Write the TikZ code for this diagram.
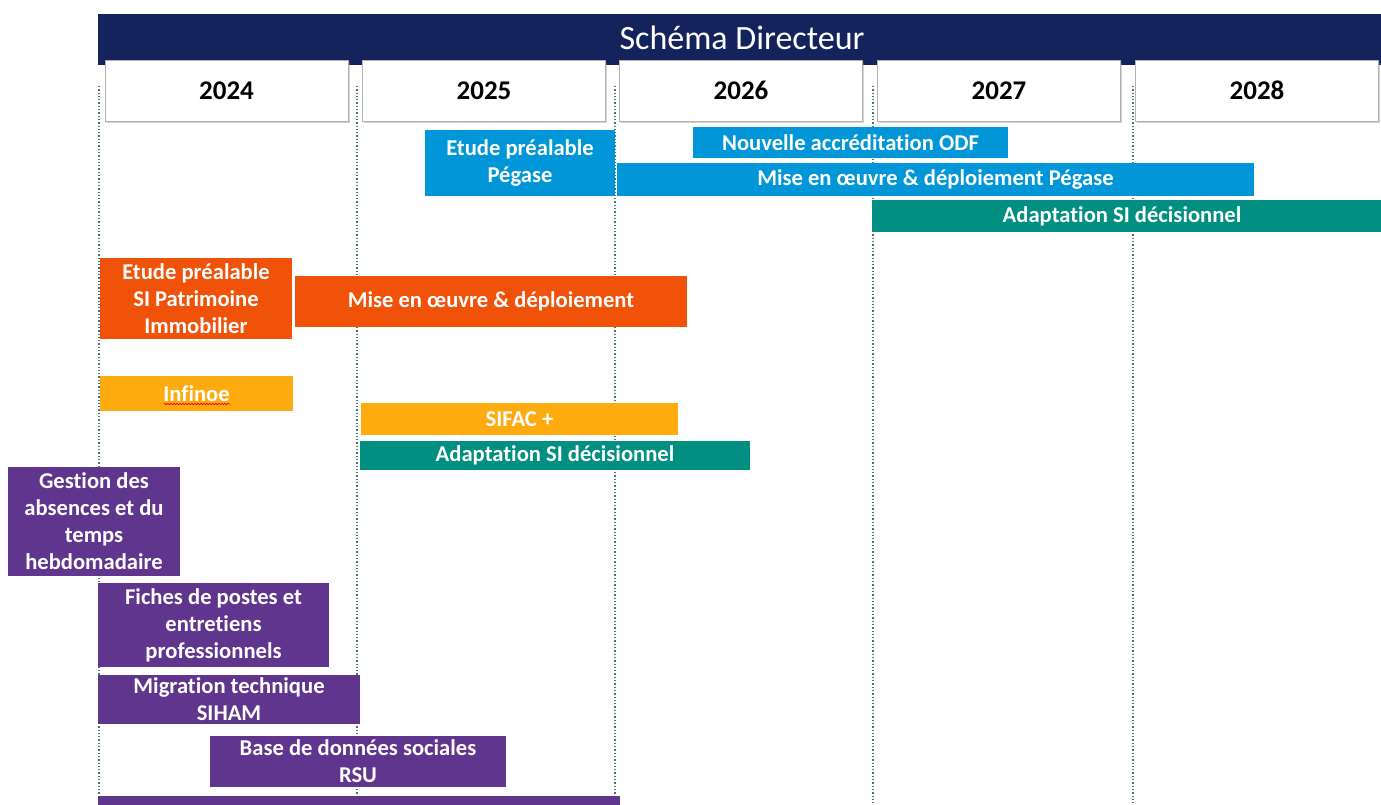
\documentclass[tikz,border=0pt]{standalone}
\usepackage{fontspec}
\setmainfont[Ligatures=NoCommon]{Carlito}
\usetikzlibrary{decorations.pathmorphing,shadows}
\definecolor{navy}{RGB}{21,35,92}
\definecolor{skyblue}{RGB}{0,150,215}
\definecolor{tealc}{RGB}{0,143,128}
\definecolor{orangec}{RGB}{239,82,8}
\definecolor{amber}{RGB}{254,171,16}
\definecolor{purplec}{RGB}{96,53,142}
\definecolor{gridc}{RGB}{70,115,125}
\tikzset{
  barbox/.style={fill=#1, draw=none, inner sep=0pt, text=white,
    font=\bfseries\fontsize{22.6}{27}\selectfont, align=center},
  yearbox/.style={fill=white, draw=gray!60, line width=0.8pt, inner sep=0pt,
    minimum width=243pt, minimum height=61pt,
    font=\bfseries\fontsize{27}{30}\selectfont,
    drop shadow={shadow xshift=1.5pt, shadow yshift=-1.5pt, opacity=0.35}},
  gridline/.style={gridc, line width=1.3pt, dash pattern=on 1.3pt off 2pt},
}
\newcommand\gb[7]{\node[barbox=#6, minimum width={(#4-#2)*1pt}, minimum height={(#5-#3)*1pt}] (#1) at ({(#2+#4)/2},{(#3+#5)/2}) {#7};}
\begin{document}
\begin{tikzpicture}[x=1pt,y=-1pt]
\useasboundingbox (0,0) rectangle (1381,805);
\clip (0,0) rectangle (1381,805);
% grid lines
\foreach \gx/\nm in {99/ga,357/gb,615/gc,873/gd,1133/ge}{
  \coordinate (\nm t) at (\gx,86);
  \coordinate (\nm b) at (\gx,805);
  \draw[gridline] (\nm t) -- (\nm b);
}
% title bar
\node[fill=navy, inner sep=0pt, minimum width=1290pt, minimum height=51pt,
  anchor=north west, text=white] (title) at (98,14) {};
\node[text=white, font=\fontsize{34}{38}\selectfont, inner sep=0pt] (titletext) at (742,38) {Schéma Directeur};
% year boxes
\node[yearbox] (y2024) at (226.5,91) {\raisebox{1pt}{2024}};
\node[yearbox] (y2025) at (484,91) {\raisebox{1pt}{2025}};
\node[yearbox] (y2026) at (741,91) {\raisebox{1pt}{2026}};
\node[yearbox] (y2027) at (999,91) {\raisebox{1pt}{2027}};
\node[yearbox] (y2028) at (1257,91) {\raisebox{1pt}{2028}};
% blue bars
\gb{etpeg}{425}{130}{615}{196}{skyblue}{Etude préalable\\Pégase}
\gb{odf}{693}{127}{1008}{158}{skyblue}{Nouvelle accréditation ODF}
\gb{mepeg}{617}{163}{1254}{196}{skyblue}{Mise en œuvre \& déploiement Pégase}
\gb{adapt1}{872}{200}{1390}{232}{tealc}{\hspace*{-18pt}Adaptation SI décisionnel}
% orange
\gb{etpat}{100}{258}{292}{339}{orangec}{Etude préalable\\SI Patrimoine\\Immobilier}
\gb{mepat}{295}{276}{687}{327}{orangec}{Mise en œuvre \& déploiement}
% amber
\gb{infinoe}{100}{376}{293}{411}{amber}{Infinoe}
\gb{sifac}{361}{403}{678}{435}{amber}{SIFAC +}
\gb{adapt2}{360}{441}{750}{470}{tealc}{Adaptation SI décisionnel}
% purple
\gb{gest}{8}{467}{180}{576}{purplec}{Gestion des\\absences et du\\temps\\hebdomadaire}
\gb{fich}{98}{583}{329}{667}{purplec}{Fiches de postes et\\entretiens\\professionnels}
\gb{sih}{98}{675}{360}{724}{purplec}{Migration technique\\SIHAM}
\gb{rsu}{210}{736}{506}{787}{purplec}{Base de données sociales\\RSU}
\gb{lastbar}{98}{796}{620}{830}{purplec}{}
% spell-check squiggle under Infinoe
\coordinate (sqa) at (164,404);
\coordinate (sqb) at (230,404);
\draw[red, line width=0.7pt, decorate, decoration={snake, segment length=3pt, amplitude=0.8pt}] (sqa) -- (sqb);
\end{tikzpicture}
\end{document}
